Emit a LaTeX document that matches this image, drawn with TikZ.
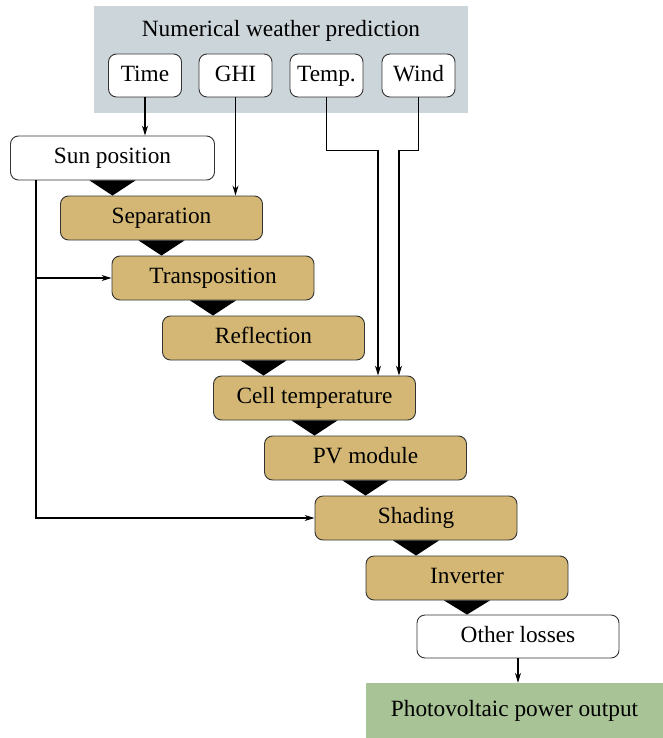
\documentclass[tikz,border=0pt]{standalone}
\usepackage{fontspec}
\setmainfont{Liberation Serif}
\usetikzlibrary{arrows.meta}
\definecolor{nwpgray}{HTML}{CCD5DA}
\definecolor{tan}{HTML}{D4B775}
\definecolor{outgreen}{HTML}{A8C395}
\definecolor{edgegray}{HTML}{333333}
\begin{document}
\begin{tikzpicture}[x=1pt,y=-1pt,
  font=\fontsize{23.3}{27}\selectfont,
  txt/.style={inner sep=0pt,text height=1.25em,text depth=0.08em},
  base/.style={txt,draw=edgegray,line width=0.9pt,rounded corners=8pt},
  input/.style={base,fill=white,minimum width=73pt,minimum height=43pt},
  stage/.style={base,fill=tan,minimum width=202pt,minimum height=44pt},
  plain/.style={base,fill=white,minimum width=204pt,minimum height=44pt},
  arr/.style={line width=1.2pt,-{Stealth[length=10pt,width=6pt]}},
  tri/.style={fill=black}]
\useasboundingbox (0,0) rectangle (663,738);
% NWP group
\node[fill=nwpgray,minimum width=374pt,minimum height=107pt,inner sep=0pt] (nwp) at (281,59.5) {};
\node[txt] (title) at (281,31) {Numerical weather prediction};
\node[input] (time) at (145,75.5) {Time};
\node[input] (ghi) at (235.5,75.5) {GHI};
\node[input] (temp) at (326.5,75.5) {Temp.};
\node[input] (wind) at (418.5,75.5) {Wind};
% chain
\node[plain] (sun) at (112.5,158) {Sun position};
\node[stage] (sep) at (161.5,218) {Separation};
\node[stage] (trans) at (213,278) {Transposition};
\node[stage] (refl) at (263.5,338) {Reflection};
\node[stage] (cell) at (314.5,398) {Cell temperature};
\node[stage] (pv) at (365.5,458) {PV module};
\node[stage] (shad) at (416,518) {Shading};
\node[stage] (inv) at (467,578) {Inverter};
\node[plain,minimum width=202pt,minimum height=43pt] (oth) at (518,636.5) {Other losses};
\node[txt,fill=outgreen,minimum width=297pt,minimum height=55pt] (out) at (514.5,710.5) {Photovoltaic power output};
% triangles
\foreach \a/\b in {sun/sep,sep/trans,trans/refl,refl/cell,cell/pv,pv/shad,shad/inv,inv/oth}{
  \fill[tri] ([xshift=-23pt]\a.south) -- ([xshift=23pt]\a.south) -- (\a.south |- \b.north) -- cycle;
}
% arrows from NWP
\draw[arr] (time.south) -- (time.south |- sun.north);
\draw[arr] (ghi.south) -- (ghi.south |- sep.north);
\draw[arr] (temp.south) -- ++(0,53) -| ([xshift=63.5pt]cell.north);
\draw[arr] (wind.south) -- ++(0,53) -| ([xshift=84.5pt]cell.north);
% sun position feeds
\coordinate (sunl) at ([xshift=-76.5pt]sun.south);
\draw[arr] (sunl) |- (shad.west);
\draw[arr] (sunl |- trans.west) -- (trans.west);
\draw[arr] (oth.south) -- (oth.south |- out.north);
\end{tikzpicture}
\end{document}
